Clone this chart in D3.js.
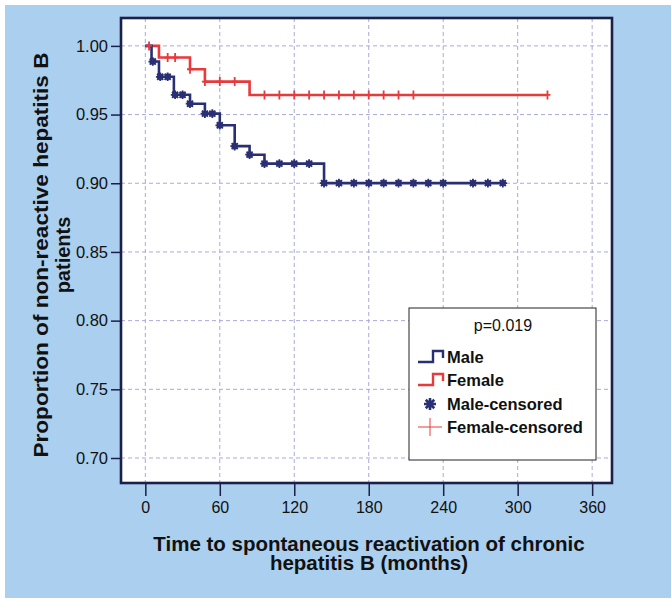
<!DOCTYPE html>
<html>
<head>
<meta charset="utf-8">
<script src="https://cdn.jsdelivr.net/npm/d3@7"></script>
<style>
  html, body { margin: 0; padding: 0; background: #fff; }
  svg { display: block; font-family: "Liberation Sans", Arial, sans-serif; }
</style>
</head>
<body>
<div id="chart"></div>
<script>
// Kaplan-Meier data (months, proportion)
var maleEventTimes = [5, 11, 23, 36, 48, 60, 72, 84, 96, 144];
var maleSurvival = [0.9886, 0.9775, 0.9644, 0.9579, 0.9507, 0.9422, 0.927, 0.9208, 0.9143, 0.9001];
var maleCensored = [6, 12, 18, 24, 30, 36, 48, 54, 60, 72, 84, 96, 108, 120, 132, 144, 156, 168, 180, 192, 204, 216, 228, 240, 264, 276, 288];

var femaleEventTimes = [11, 36, 48, 84];
var femaleSurvival = [0.9915, 0.983, 0.974, 0.9643];
var femaleCensored = [3, 18, 24, 36, 48, 60, 72, 96, 108, 120, 132, 144, 156, 168, 180, 192, 204, 216, 324];

var xTicks = [0, 60, 120, 180, 240, 300, 360];
var yTicks = [0.70, 0.75, 0.80, 0.85, 0.90, 0.95, 1.00];
var legendLabels = ["Male", "Female", "Male-censored", "Female-censored"];
var pValueText = "p=0.019";

var width = 671, height = 598;
var navy = "#2a2f74", red = "#e8393c", gridColor = "#a9aadb";

var svg = d3.select("#chart").append("svg")
  .attr("width", width)
  .attr("height", height);

// blue panel with thin white edge top/left
svg.append("rect").attr("x", 5).attr("y", 5).attr("width", width - 5).attr("height", height - 5)
  .attr("fill", "#abcfee");

// plot frame bounds
var pLeft = 121, pRight = 612, pTop = 18, pBottom = 483;

var x = d3.scaleLinear().domain([-19.6, 376]).range([pLeft, pRight]);
var y = d3.scaleLinear().domain([0.6818, 1.0203]).range([pBottom, pTop]);

svg.append("rect")
  .attr("x", pLeft).attr("y", pTop)
  .attr("width", pRight - pLeft).attr("height", pBottom - pTop)
  .attr("fill", "#fff");

// dashed grid
svg.append("g").selectAll("line")
  .data(xTicks).enter().append("line")
  .attr("x1", function (d) { return x(d); }).attr("x2", function (d) { return x(d); })
  .attr("y1", pTop).attr("y2", pBottom)
  .attr("stroke", gridColor).attr("stroke-width", 1).attr("stroke-dasharray", "4,3");

svg.append("g").selectAll("line")
  .data(yTicks).enter().append("line")
  .attr("x1", pLeft).attr("x2", pRight)
  .attr("y1", function (d) { return y(d); }).attr("y2", function (d) { return y(d); })
  .attr("stroke", gridColor).attr("stroke-width", 1).attr("stroke-dasharray", "4,3");

// axes
var xAxis = svg.append("g")
  .attr("transform", "translate(0," + pBottom + ")")
  .call(d3.axisBottom(x).tickValues(xTicks).tickSize(13).tickPadding(6).tickFormat(d3.format("d")));
var yAxis = svg.append("g")
  .attr("transform", "translate(" + pLeft + ",0)")
  .call(d3.axisLeft(y).tickValues(yTicks).tickSize(10).tickPadding(3).tickFormat(d3.format(".2f")));

[xAxis, yAxis].forEach(function (g) {
  g.select(".domain").remove();
  g.selectAll(".tick line").attr("stroke", "#1b1f4a").attr("stroke-width", 1.5);
  g.selectAll(".tick text").attr("fill", "#111")
    .style("font-family", "'Liberation Sans', Arial, sans-serif");
});
xAxis.selectAll(".tick text").style("font-size", "16px");
yAxis.selectAll(".tick text").style("font-size", "16.5px");

// Kaplan-Meier step curves
function kmPoints(times, surv, endTime) {
  var pts = [[0, 1]];
  times.forEach(function (t, i) { pts.push([t, surv[i]]); });
  pts.push([endTime, surv[surv.length - 1]]);
  return pts;
}

function levelAt(times, surv, t) {
  var s = 1;
  times.forEach(function (et, i) { if (et <= t) s = surv[i]; });
  return s;
}

var stepLine = d3.line()
  .x(function (d) { return x(d[0]); })
  .y(function (d) { return y(d[1]); })
  .curve(d3.curveStepAfter);

svg.append("path")
  .datum(kmPoints(femaleEventTimes, femaleSurvival, d3.max(femaleCensored)))
  .attr("d", stepLine)
  .attr("fill", "none").attr("stroke", red).attr("stroke-width", 2.6);

svg.append("path")
  .datum(kmPoints(maleEventTimes, maleSurvival, d3.max(maleCensored)))
  .attr("d", stepLine)
  .attr("fill", "none").attr("stroke", navy).attr("stroke-width", 2.6);

// censor marks
function plusPath(cx, cy, hw, hh) {
  return "M" + (cx - hw) + "," + cy + "H" + (cx + hw) + "M" + cx + "," + (cy - hh) + "V" + (cy + hh);
}
function starPath(cx, cy, r) {
  var p = "";
  for (var k = 0; k < 4; k++) {
    var a = k * Math.PI / 4;
    p += "M" + (cx - r * Math.cos(a)) + "," + (cy - r * Math.sin(a)) +
      "L" + (cx + r * Math.cos(a)) + "," + (cy + r * Math.sin(a));
  }
  return p;
}

svg.append("g").selectAll("path")
  .data(femaleCensored).enter().append("path")
  .attr("d", function (d) { return plusPath(x(d), y(levelAt(femaleEventTimes, femaleSurvival, d)), 3, 4.5); })
  .attr("stroke", red).attr("stroke-width", 1.8).attr("fill", "none");

var maleMarks = svg.append("g").selectAll("g")
  .data(maleCensored).enter().append("g");
maleMarks.append("circle")
  .attr("cx", function (d) { return x(d); })
  .attr("cy", function (d) { return y(levelAt(maleEventTimes, maleSurvival, d)); })
  .attr("r", 3.2).attr("fill", navy);
maleMarks.append("path")
  .attr("d", function (d) { return starPath(x(d), y(levelAt(maleEventTimes, maleSurvival, d)), 4.3); })
  .attr("stroke", navy).attr("stroke-width", 1.8);

// frame
svg.append("rect")
  .attr("x", pLeft).attr("y", pTop)
  .attr("width", pRight - pLeft).attr("height", pBottom - pTop)
  .attr("fill", "none").attr("stroke", "#1b1f4a").attr("stroke-width", 2.6);

// legend
var lg = svg.append("g");
lg.append("rect").attr("x", 409).attr("y", 308).attr("width", 187).attr("height", 152)
  .attr("fill", "#fff").attr("stroke", "#222").attr("stroke-width", 1);
lg.append("text").attr("x", 503).attr("y", 331).attr("text-anchor", "middle")
  .style("font-size", "16px").attr("fill", "#111").text(pValueText);

var rowY = [357, 380, 404, 427];
lg.selectAll("text.lab").data(legendLabels).enter().append("text")
  .attr("class", "lab")
  .attr("x", 447).attr("y", function (d, i) { return rowY[i] + 6; })
  .style("font-size", "16.5px").style("font-weight", "bold").attr("fill", "#111")
  .text(function (d) { return d; });

[navy, red].forEach(function (c, i) {
  var cy = rowY[i];
  lg.append("path")
    .attr("d", "M418," + (cy + 5) + "H433V" + (cy - 6) + "H443V" + (cy + 1))
    .attr("fill", "none").attr("stroke", c).attr("stroke-width", 2.4);
});
lg.append("path").attr("d", starPath(430, rowY[2], 6)).attr("stroke", navy).attr("stroke-width", 2.6);
lg.append("circle").attr("cx", 430).attr("cy", rowY[2]).attr("r", 2.5).attr("fill", navy);
lg.append("path").attr("d", plusPath(430, rowY[3], 12, 9)).attr("stroke", red).attr("stroke-width", 1).attr("fill", "none");

// axis titles
var xt = svg.append("text").attr("text-anchor", "middle")
  .style("font-size", "20.5px").style("font-weight", "bold").attr("fill", "#111");
xt.append("tspan").attr("x", 369).attr("y", 551).text("Time to spontaneous reactivation of chronic");
xt.append("tspan").attr("x", 369).attr("y", 570).text("hepatitis B (months)");

var yt = svg.append("text").attr("text-anchor", "middle")
  .attr("transform", "translate(0,255) rotate(-90)")
  .style("font-size", "20px").style("font-weight", "bold").attr("fill", "#111");
yt.append("tspan").attr("x", 0).attr("y", 48)
  .attr("textLength", 405).attr("lengthAdjust", "spacingAndGlyphs")
  .text("Proportion of non-reactive hepatitis B");
yt.append("tspan").attr("x", 0).attr("y", 70).text("patients");
</script>
</body>
</html>
